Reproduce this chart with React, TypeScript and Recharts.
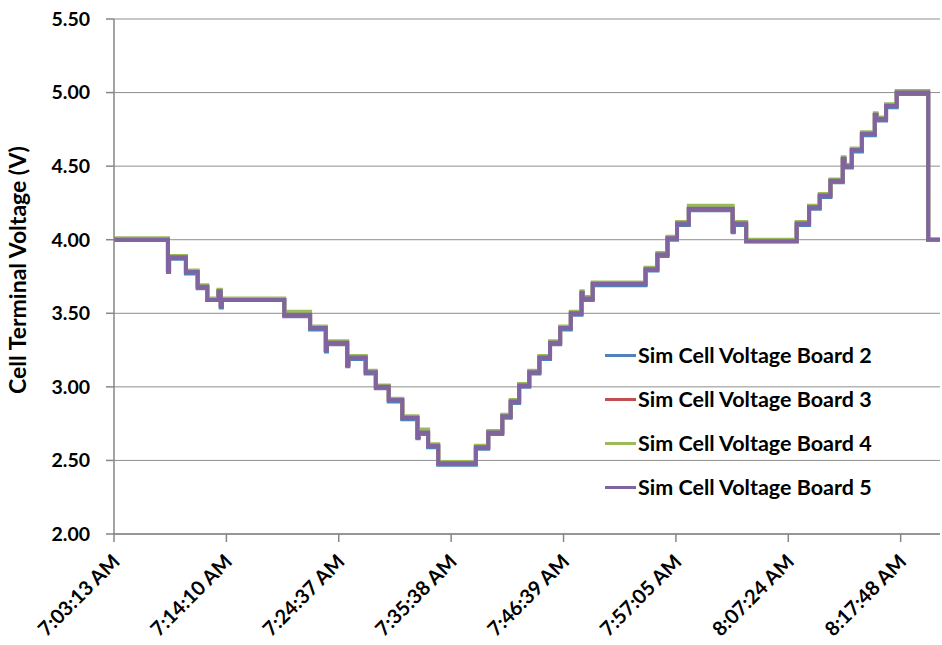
import React from "react";
import {
  LineChart,
  Line,
  XAxis,
  YAxis,
  CartesianGrid,
  Legend,
} from "recharts";

// sample index (Excel category position) at each step change
const sampleIdx = [
  0, 48, 49, 64, 74.5, 83, 93, 95, 96, 151.5, 174.5, 188.5, 189.5, 207.5, 208.5,
  224, 233, 244.5, 256.5, 270, 271, 279.5, 288.5, 322, 333, 345.5, 353, 360.5,
  369.5, 378.5, 388, 397, 406.5, 416, 417, 426, 473, 483.5, 492.5, 501, 511.5,
  550.5, 551.5, 562.5, 607.5, 618.5, 628, 637.5, 648.5, 650, 656.5, 665.5, 677,
  678.5, 687, 696.5, 724.5, 735,
];

const board2 = [
  4.0, 3.78, 3.87, 3.77, 3.67, 3.59, 3.64, 3.54, 3.59, 3.48, 3.39, 3.24, 3.29,
  3.14, 3.19, 3.09, 2.99, 2.9, 2.78, 2.65, 2.68, 2.59, 2.47, 2.58, 2.68, 2.79,
  2.89, 3.0, 3.09, 3.19, 3.29, 3.39, 3.49, 3.63, 3.59, 3.69, 3.79, 3.89, 4.0,
  4.1, 4.2, 4.05, 4.1, 3.99, 4.1, 4.21, 4.29, 4.39, 4.54, 4.49, 4.6, 4.71, 4.84,
  4.81, 4.9, 4.99, 4.0, 4.0,
];

const board3 = [
  4.0, 3.79, 3.88, 3.78, 3.68, 3.59, 3.65, 3.55, 3.59, 3.49, 3.4, 3.25, 3.3,
  3.15, 3.2, 3.1, 3.0, 2.91, 2.79, 2.66, 2.69, 2.6, 2.48, 2.59, 2.69, 2.8, 2.9,
  3.01, 3.1, 3.2, 3.3, 3.4, 3.5, 3.64, 3.6, 3.7, 3.8, 3.9, 4.01, 4.11, 4.21,
  4.06, 4.11, 3.99, 4.11, 4.22, 4.3, 4.4, 4.55, 4.5, 4.61, 4.72, 4.85, 4.82,
  4.91, 5.0, 4.0, 4.0,
];

const board4 = [
  4.01, 3.8, 3.89, 3.79, 3.69, 3.6, 3.66, 3.56, 3.6, 3.51, 3.41, 3.26, 3.31,
  3.16, 3.21, 3.11, 3.01, 2.92, 2.8, 2.67, 2.71, 2.61, 2.49, 2.6, 2.7, 2.81,
  2.91, 3.02, 3.11, 3.21, 3.31, 3.41, 3.51, 3.65, 3.61, 3.71, 3.81, 3.91, 4.02,
  4.12, 4.23, 4.07, 4.12, 4.0, 4.12, 4.23, 4.31, 4.41, 4.56, 4.51, 4.62, 4.73,
  4.86, 4.83, 4.92, 5.01, 4.0, 4.0,
];

const board5 = [
  4.0, 3.79, 3.88, 3.78, 3.68, 3.59, 3.65, 3.55, 3.59, 3.49, 3.4, 3.25, 3.3,
  3.15, 3.2, 3.1, 3.0, 2.91, 2.79, 2.66, 2.69, 2.6, 2.48, 2.59, 2.69, 2.8, 2.9,
  3.01, 3.1, 3.2, 3.3, 3.4, 3.5, 3.64, 3.6, 3.7, 3.8, 3.9, 4.01, 4.11, 4.21,
  4.06, 4.11, 3.99, 4.11, 4.22, 4.3, 4.4, 4.55, 4.5, 4.61, 4.72, 4.85, 4.82,
  4.91, 5.0, 4.0, 4.0,
];

const timeTicks = [0, 100, 200, 300, 400, 500, 600, 700];
const timeLabels = [
  "7:03:13 AM",
  "7:14:10 AM",
  "7:24:37 AM",
  "7:35:38 AM",
  "7:46:39 AM",
  "7:57:05 AM",
  "8:07:24 AM",
  "8:17:48 AM",
];
const voltTicks = [2, 2.5, 3, 3.5, 4, 4.5, 5, 5.5];

const series = [
  { key: "b2", name: "Sim Cell Voltage Board 2", color: "#4F81BD" },
  { key: "b3", name: "Sim Cell Voltage Board 3", color: "#C0504D" },
  { key: "b4", name: "Sim Cell Voltage Board 4", color: "#9BBB59" },
  { key: "b5", name: "Sim Cell Voltage Board 5", color: "#8064A2" },
];

const chartData = sampleIdx.map((idx, i) => ({
  idx,
  b2: board2[i],
  b3: board3[i],
  b4: board4[i],
  b5: board5[i],
}));

const FONT = "Lato, 'Open Sans', sans-serif";

function TimeTick(props: any) {
  const { x, y, payload } = props;
  const ax = x + 7;
  const ay = y + 19;
  const label = timeLabels[timeTicks.indexOf(payload.value)] ?? "";
  return (
    <text
      x={ax}
      y={ay}
      transform={`rotate(-45 ${ax} ${ay})`}
      textAnchor="end"
      fontFamily={FONT}
      fontWeight={700}
      fontSize={20}
      fill="#000"
    >
      {label}
    </text>
  );
}

function AxisTitle() {
  return (
    <text
      x={26}
      y={270}
      transform="rotate(-90 26 270)"
      textAnchor="middle"
      fontFamily={FONT}
      fontWeight={700}
      fontSize={23}
      fill="#000"
    >
      Cell Terminal Voltage (V)
    </text>
  );
}

function LegendBox() {
  return (
    <div style={{ fontFamily: FONT, fontWeight: 700, fontSize: 21.5 }}>
      {series.map((s) => (
        <div
          key={s.key}
          style={{ display: "flex", alignItems: "center", height: 44 }}
        >
          <span
            style={{
              display: "inline-block",
              width: 31,
              height: 3,
              background: s.color,
              marginRight: 2,
            }}
          />
          <span style={{ color: "#000", whiteSpace: "nowrap" }}>{s.name}</span>
        </div>
      ))}
    </div>
  );
}

export default function App() {
  return (
    <div style={{ position: "absolute", left: 0, top: 0, background: "#fff" }}>
      <LineChart
        width={942}
        height={645}
        data={chartData}
        margin={{ top: 19, right: 2, left: 0, bottom: 0 }}
        style={{ fontFamily: FONT }}
      >
        <CartesianGrid horizontal vertical={false} stroke="#8e8e8e" />
        <XAxis
          type="number"
          dataKey="idx"
          domain={[0, 735]}
          ticks={timeTicks}
          tick={<TimeTick />}
          tickSize={8}
          height={111}
          stroke="#868686"
          strokeWidth={1.5}
          interval={0}
          allowDataOverflow
        />
        <YAxis
          domain={[2, 5.5]}
          ticks={voltTicks}
          tickFormatter={(v: number) => v.toFixed(2)}
          tickSize={8}
          tickMargin={16}
          width={114}
          stroke="#868686"
          strokeWidth={1.5}
          tick={{ fill: "#000", fontSize: 19.5, fontWeight: 700, fontFamily: FONT }}
          label={{ content: () => <AxisTitle /> }}
          interval={0}
        />
        <Legend
          layout="vertical"
          align="center"
          verticalAlign="middle"
          content={() => <LegendBox />}
          wrapperStyle={{ left: 605, top: 333, width: 320 }}
        />
        {series.map((s) => (
          <Line
            key={s.key}
            type="stepAfter"
            dataKey={s.key}
            name={s.name}
            stroke={s.color}
            strokeWidth={4}
            dot={false}
            isAnimationActive={false}
          />
        ))}
      </LineChart>
    </div>
  );
}
